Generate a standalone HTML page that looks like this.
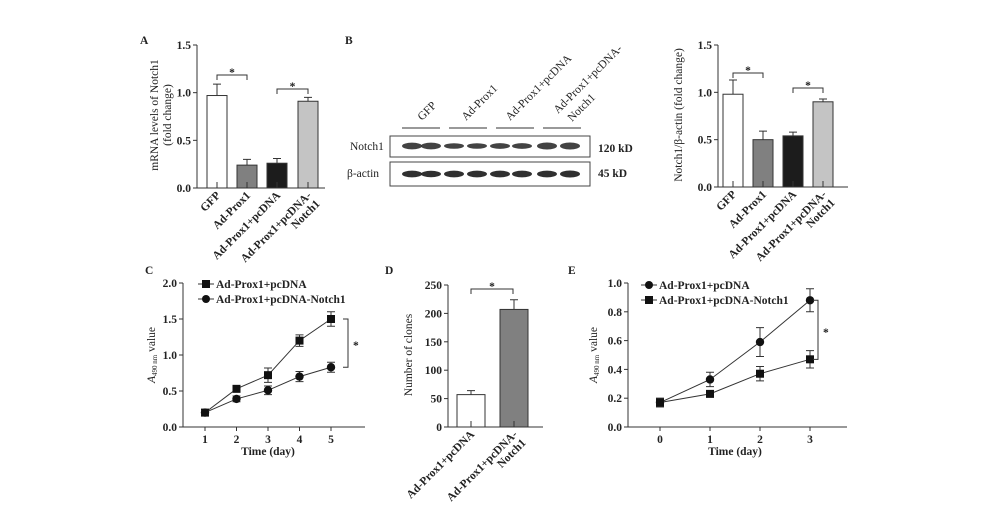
<!DOCTYPE html>
<html><head><meta charset="utf-8"><style>
html,body{margin:0;padding:0;background:#fff}
svg{display:block;font-family:"Liberation Serif",serif;fill:#222}
text{font-size:11.5px}
</style></head><body>
<svg id="fig" width="1000" height="523" viewBox="0 0 1000 523" xmlns="http://www.w3.org/2000/svg">
<g>
<text x="345" y="44" font-weight="bold">B</text>
<line x1="402" y1="128" x2="440" y2="128" stroke="#333"/>
<line x1="449" y1="128" x2="487" y2="128" stroke="#333"/>
<line x1="496" y1="128" x2="534" y2="128" stroke="#333"/>
<line x1="543" y1="128" x2="581" y2="128" stroke="#333"/>
<text transform="translate(422,121) rotate(-45)">GFP</text>
<text transform="translate(466,121) rotate(-45)">Ad-Prox1</text>
<text transform="translate(510,121) rotate(-45)">Ad-Prox1+pcDNA</text>
<text transform="translate(558,114) rotate(-45)">Ad-Prox1+pcDNA-</text>
<text transform="translate(572,122) rotate(-45)">Notch1</text>
<rect x="390" y="136" width="200" height="21" fill="#fff" stroke="#444"/>
<rect x="390" y="162" width="200" height="24" fill="#fff" stroke="#444"/>
<text x="350" y="150">Notch1</text>
<text x="347" y="177">β-actin</text>
<text x="598" y="152" font-weight="bold">120 kD</text>
<text x="598" y="177" font-weight="bold">45 kD</text>
<g id="bands"></g>
</g>
<g id="charts"></g>
</svg>
<script>
const NS="http://www.w3.org/2000/svg";
const svg=document.getElementById('charts');
function mk(p,tag,a){const e=document.createElementNS(NS,tag);for(const k in a)e.setAttribute(k,a[k]);p.appendChild(e);return e;}

// Blot band intensities
const laneX=[412,431,454,477,500,522,547,570];
const notchBand=[1.0,1.0,0.6,0.6,0.65,0.65,1.1,1.05];
const actinBand=[1.0,0.9,0.95,0.95,0.95,0.95,1.0,1.05];
const bg=document.getElementById('bands');
laneX.forEach((x,i)=>{
  const b=mk(bg,'ellipse',{cx:x,cy:146,rx:10,ry:1.8+1.6*notchBand[i],fill:'#222',opacity:0.85});
  
  
  const c=mk(bg,'ellipse',{cx:x,cy:174,rx:10,ry:1.8+1.6*actinBand[i],fill:'#1a1a1a',opacity:0.9});
  
  
});

// Panel A data
const aCats=['GFP','Ad-Prox1','Ad-Prox1+pcDNA','Ad-Prox1+pcDNA-|Notch1'];
const aVals=[0.97,0.24,0.26,0.91];
const aErrs=[0.12,0.06,0.05,0.04];
const aTicks=[0,0.5,1.0,1.5];
// Right-top panel data
const bVals=[0.98,0.50,0.54,0.90];
const bErrs=[0.15,0.09,0.04,0.03];
const bTicks=[0,0.5,1.0,1.5];
// Panel C data
const cDays=[1,2,3,4,5];
const cPc=[0.20,0.53,0.72,1.20,1.50];
const cPcErr=[0.03,0.03,0.10,0.08,0.10];
const cN=[0.20,0.39,0.51,0.70,0.83];
const cNErr=[0.03,0.04,0.06,0.07,0.07];
const cTicks=[0,0.5,1.0,1.5,2.0];
// Panel D data
const dCats=['Ad-Prox1+pcDNA','Ad-Prox1+pcDNA-|Notch1'];
const dVals=[57,207];
const dErrs=[7,17];
const dTicks=[0,50,100,150,200,250];
// Panel E data
const eDays=[0,1,2,3];
const ePc=[0.17,0.33,0.59,0.88];
const ePcErr=[0.03,0.05,0.10,0.08];
const eN=[0.17,0.23,0.37,0.47];
const eNErr=[0.03,0.02,0.05,0.06];
const eTicks=[0,0.2,0.4,0.6,0.8,1.0];

function lin(d0,d1,r0,r1){return v=>r0+(v-d0)*(r1-r0)/(d1-d0);}
function yAxis(g,x,y,ticks,dec,x2,y0){
  const l=mk(g,'line',{x1:x,y1:y(ticks[ticks.length-1]),x2:x,y2:y0,stroke:'#333'});
  
  
  const xl=mk(g,'line',{x1:x,y1:y0,x2:x2,y2:y0,stroke:'#333'});
  
  
  ticks.forEach(t=>{
    const tk=mk(g,'line',{x1:x-4,y1:y(t),x2:x,y2:y(t),stroke:'#333'});
    
    
    const tx=mk(g,'text',{x:x-6,y:y(t)+4,'text-anchor':'end','font-weight':'bold'});
    tx.textContent=t.toFixed(dec);
    
    
  });
}
function ylab(g,x,y,lines){
  lines.forEach((s,i)=>{
    const t=mk(g,'text',{transform:`translate(${x+i*13},${y}) rotate(-90)`,'text-anchor':'middle'});
    t.innerHTML=s;
    
    
  });
}
function letter(g,x,y,s){const t=mk(g,'text',{x:x,y:y,'font-weight':'bold'});t.textContent=s;
  
  }
function bracketH(g,x1,x2,yy){
  const p=mk(g,'path',{d:`M${x1},${yy+5}V${yy}H${x2}V${yy+5}`,fill:'none',stroke:'#333'});
  
  
  const t=mk(g,'text',{x:(x1+x2)/2,y:yy+1,'text-anchor':'middle','font-weight':'bold'});t.textContent='*';
  
  
}
function bars(g,xs,w,vals,errs,y,y0,fills,cats){
  vals.forEach((v,i)=>{
    const r=mk(g,'rect',{x:xs[i],y:y(v),width:w,height:y0-y(v),fill:fills[i],stroke:'#333'});
    
    
    const cx=xs[i]+w/2;
    const e=mk(g,'path',{d:`M${cx},${y(v)}V${y(v+errs[i])}M${cx-4},${y(v+errs[i])}H${cx+4}M${cx},${y0}V${y0-6}`,stroke:'#333',fill:'none'});
    
    
    const parts=cats[i].split('|');
    parts.forEach((s,j)=>{
      const t=mk(g,'text',{transform:`translate(${cx+4},${y0+8}) rotate(-45)`,x:0,y:j*12,'text-anchor':'end','font-weight':'bold'});
      t.textContent=s;
      
      
    });
  });
}
const fills4=['#fff','#808080','#1c1c1c','#c4c4c4'];

// Panel A
{const g=mk(svg,'g',{});
 const y=lin(0,1.5,188,45);letter(g,140,44,'A');
 yAxis(g,197,y,aTicks,1,325,188);
 bars(g,[207,237,267,298],20,aVals,aErrs,y,188,fills4,aCats);
 ylab(g,158,115,['mRNA levels of Notch1','(fold change)']);
 bracketH(g,217,247,75);bracketH(g,277,308,89);}
// Right-top
{const g=mk(svg,'g',{});
 const y=lin(0,1.5,187,45);
 yAxis(g,718,y,bTicks,1,848,187);
 bars(g,[723,753,783,813],20,bVals,bErrs,y,187,fills4,aCats);
 ylab(g,682,115,['Notch1/β-actin (fold change)']);
 bracketH(g,733,763,73);bracketH(g,793,823,88);}
// line chart helper
function lineChart(g,days,x,y,series,errs,markers,names,legY,lx){
  series.forEach((s,k)=>{
    const pts=s.map((v,i)=>x(days[i])+','+y(v)).join(' ');
    const pl=mk(g,'polyline',{points:pts,fill:'none',stroke:'#333'});
    
    
    s.forEach((v,i)=>{
      const cx=x(days[i]),e=errs[k][i];
      const eb=mk(g,'path',{d:`M${cx},${y(v-e)}V${y(v+e)}M${cx-4},${y(v-e)}H${cx+4}M${cx-4},${y(v+e)}H${cx+4}`,stroke:'#333',fill:'none'});
      
      
      const m=markers[k]=='sq'?mk(g,'rect',{x:cx-4,y:y(v)-4,width:8,height:8,fill:'#111'}):mk(g,'circle',{cx:cx,cy:y(v),r:4.2,fill:'#111'});
      
      
    });
    const ly=legY+k*15;
    const ll=mk(g,'line',{x1:lx,y1:ly,x2:lx+16,y2:ly,stroke:'#333'});
    
    
    const lm=markers[k]=='sq'?mk(g,'rect',{x:lx+4,y:ly-4,width:8,height:8,fill:'#111'}):mk(g,'circle',{cx:lx+8,cy:ly,r:4,fill:'#111'});
    
    
    const lt=mk(g,'text',{x:lx+18,y:ly+4,'font-weight':'bold'});lt.textContent=names[k];
    
    
  });
}
function xTicks(g,days,x,y0){
  days.forEach(d=>{
    const t=mk(g,'line',{x1:x(d),y1:y0,x2:x(d),y2:y0+4,stroke:'#333'});
    
    
    const l=mk(g,'text',{x:x(d),y:y0+16,'text-anchor':'middle','font-weight':'bold'});l.textContent=d;
    
    
  });
}
function bracketV(g,xx,y1,y2){
  const p=mk(g,'path',{d:`M${xx-5},${y1}H${xx}V${y2}H${xx-5}`,fill:'none',stroke:'#333'});
  
  
  const t=mk(g,'text',{x:xx+5,y:(y1+y2)/2+6,'font-weight':'bold'});t.textContent='*';
  
  
}
function xTitle(g,x,y){const t=mk(g,'text',{x:x,y:y,'text-anchor':'middle','font-weight':'bold'});t.textContent='Time (day)';
  
  }
// Panel C
{const g=mk(svg,'g',{});
 const y=lin(0,2,427,283),x=lin(1,5,205,331);letter(g,145,274,'C');
 yAxis(g,183,y,cTicks,1,365,427);xTicks(g,cDays,x,427);xTitle(g,268,455);
 lineChart(g,cDays,x,y,[cPc,cN],[cPcErr,cNErr],['sq','ci'],['Ad-Prox1+pcDNA','Ad-Prox1+pcDNA-Notch1'],284,198);
 ylab(g,155,355,['<tspan font-style="italic">A</tspan><tspan font-size="7" dy="2">490 nm</tspan><tspan dy="-2"> value</tspan>']);
 bracketV(g,348,y(1.5),y(0.83));}
// Panel D
{const g=mk(svg,'g',{});
 const y=lin(0,250,427,285);letter(g,385,274,'D');
 yAxis(g,448,y,dTicks,0,543,427);
 bars(g,[457,500],28,dVals,dErrs,y,427,['#fff','#808080'],dCats);
 ylab(g,412,355,['Number of clones']);
 bracketH(g,471,513,289);}
// Panel E
{const g=mk(svg,'g',{});
 const y=lin(0,1,427,283),x=lin(0,3,660,810);letter(g,568,274,'E');
 yAxis(g,628,y,eTicks,1,847,427);xTicks(g,eDays,x,427);xTitle(g,735,455);
 lineChart(g,eDays,x,y,[ePc,eN],[ePcErr,eNErr],['ci','sq'],['Ad-Prox1+pcDNA','Ad-Prox1+pcDNA-Notch1'],285,641);
 ylab(g,597,355,['<tspan font-style="italic">A</tspan><tspan font-size="7" dy="2">490 nm</tspan><tspan dy="-2"> value</tspan>']);
 bracketV(g,818,y(0.88),y(0.47));}
</script>
</body></html>
